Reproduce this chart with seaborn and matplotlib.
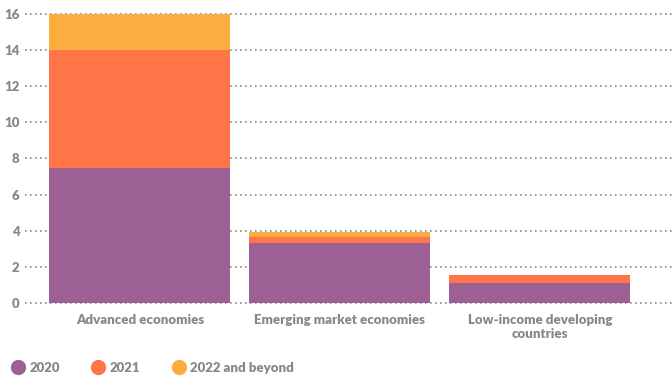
import matplotlib
matplotlib.use("Agg")
import matplotlib.pyplot as plt
import seaborn as sns
import numpy as np
import pandas as pd
from matplotlib.lines import Line2D

categories = ["Advanced economies", "Emerging market economies", "Low-income developing\ncountries"]
series_names = ["2020", "2021", "2022 and beyond"]
v2020 = [7.45, 3.3, 1.1]
v2021 = [6.55, 0.37, 0.45]
v2022 = [2.0, 0.27, 0.0]
colors = ["#9C6094", "#FF7548", "#FBAE40"]
yticks = [0, 2, 4, 6, 8, 10, 12, 14, 16]

sns.set_theme(style="white")
plt.rcParams['font.family'] = ['Lato', 'DejaVu Sans']

fig = plt.figure(figsize=(6.72, 3.76), dpi=100)
ax = fig.add_axes([0.037, 0.194, 0.963, 0.77])

c1 = np.array(v2020)
c2 = c1 + np.array(v2021)
c3 = c2 + np.array(v2022)
df = pd.DataFrame({"cat": categories, "c1": c1, "c2": c2, "c3": c3})

for col, color in zip(["c3", "c2", "c1"], colors[::-1]):
    sns.barplot(data=df, x="cat", y=col, color=color, width=0.905, ax=ax,
                saturation=1, zorder=3, edgecolor="none", linewidth=0)

ax.set_xlim(-0.575, 2.66)
ax.set_ylim(0, 16.02)
ax.set_yticks(yticks)
ax.set_yticklabels([str(t) for t in yticks])
for t in yticks:
    ax.axhline(t, color="#8a8a8a", linestyle=(0, (1, 2)), linewidth=1.2, zorder=1, clip_on=False)
ax.grid(False)
for s in ax.spines.values():
    s.set_visible(False)
ax.set_xlabel("")
ax.set_ylabel("")
ax.tick_params(axis="both", length=0, colors="#888888", labelsize=9.5, pad=4)
for lbl in ax.get_xticklabels() + ax.get_yticklabels():
    lbl.set_fontweight("heavy")
    lbl.set_color("#888888")
ax.tick_params(axis="x", pad=8)

handles = [Line2D([0], [0], marker="o", linestyle="none", markersize=11,
                  markerfacecolor=c, markeredgecolor="none") for c in colors]
leg = fig.legend(handles, series_names, loc="lower left", bbox_to_anchor=(0.0, -0.025),
                 ncol=3, frameon=False, handletextpad=0.35, columnspacing=2.4,
                 prop={"weight": "heavy", "size": 9.5}, handlelength=1.0)
for t in leg.get_texts():
    t.set_color("#888888")

fig.savefig("out.png", dpi=100)
